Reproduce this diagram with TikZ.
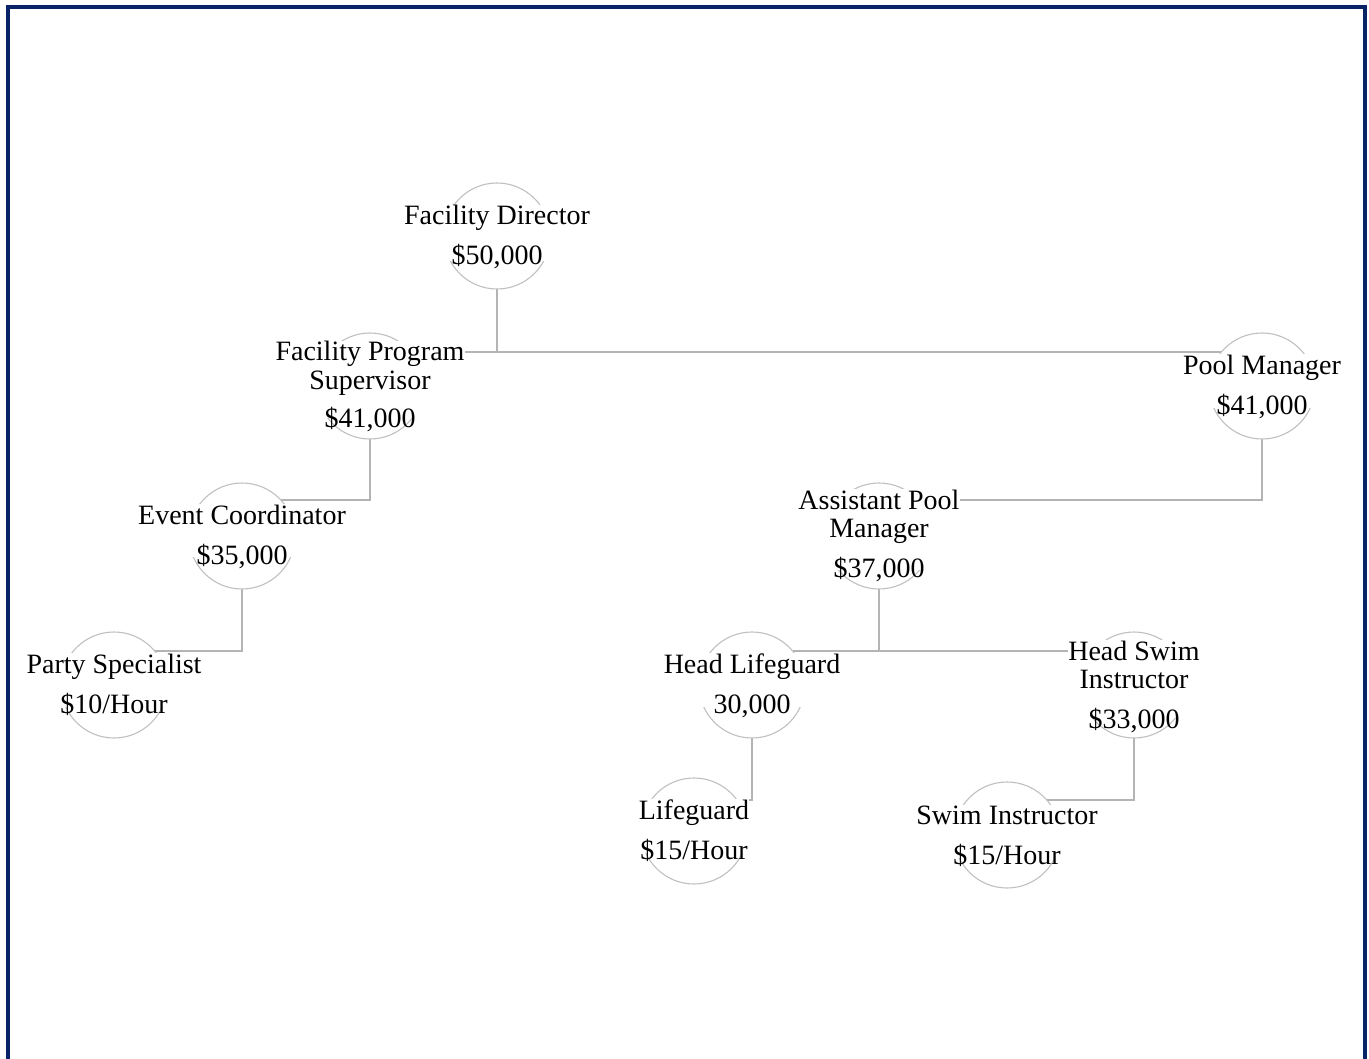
\documentclass[tikz,border=0pt]{standalone}
\usepackage{fontspec}
\setmainfont{Liberation Serif}
\usetikzlibrary{fit,calc}
\definecolor{navy}{RGB}{8,36,102}
\definecolor{circgray}{RGB}{192,192,192}
\definecolor{conngray}{RGB}{180,180,180}
\pgfdeclarelayer{connlayer}
\pgfdeclarelayer{circlayer}
\pgfdeclarelayer{boxlayer}
\pgfsetlayers{connlayer,circlayer,boxlayer,main}
\begin{document}
\begin{tikzpicture}[x=1pt,y=-1pt,
  circ/.style={circle,draw=circgray,line width=1.1pt,fill=white,minimum size=106pt,inner sep=0pt},
  lbl/.style={inner sep=0pt,anchor=base,font=\fontsize{28}{28}\selectfont},
  lblbox/.style={fill=white,draw=none,inner sep=0pt},
  conn/.style={draw=conngray,line width=1.1pt}]
\useasboundingbox (0,0) rectangle (1369,1059);
\draw[navy,line width=4pt] (8,7) rectangle (1365,1075);

% circles
\begin{pgfonlayer}{circlayer}
\node[circ] (fd)  at (497,236) {};
\node[circ] (fps) at (370,386) {};
\node[circ] (pm)  at (1262,386) {};
\node[circ] (ec)  at (242,536) {};
\node[circ] (apm) at (879,536) {};
\node[circ] (ps)  at (114,685) {};
\node[circ] (hl)  at (752,685) {};
\node[circ] (hsi) at (1134,685) {};
\node[circ] (lg)  at (694,831) {};
\node[circ] (si)  at (1007,835) {};
\end{pgfonlayer}

% connectors
\coordinate (jfd) at (497,352);
\coordinate (jfps) at (370,500);
\coordinate (jpm) at (1262,500);
\coordinate (jec) at (242,651);
\coordinate (japm) at (879,651);
\coordinate (jhl) at (752,800);
\coordinate (jhsi) at (1134,800);
\begin{pgfonlayer}{connlayer}
\draw[conn] (fd.center) -- (jfd) -| (fps.center);
\draw[conn] (jfd) -| (pm.center);
\draw[conn] (fps.center) -- (jfps) -| (ec.center);
\draw[conn] (pm.center) -- (jpm) -| (apm.center);
\draw[conn] (ec.center) -- (jec) -| (ps.center);
\draw[conn] (apm.center) -- (japm) -| (hl.center);
\draw[conn] (japm) -| (hsi.center);
\draw[conn] (hl.center) -- (jhl) -| (lg.center);
\draw[conn] (hsi.center) -- (jhsi) -| (si.center);
\end{pgfonlayer}

% labels
\node[lbl] (fd1) at (497,225) {Facility Director};
\node[lbl] (fd2) at (497,265) {\$50,000};
\node[lbl] (fps1) at (370,361) {Facility Program};
\node[lbl] (fps2) at (370,389) {Supervisor};
\node[lbl] (fps3) at (370,428) {\$41,000};
\node[lbl] (pm1) at (1262,374) {Pool Manager};
\node[lbl] (pm2) at (1262,414) {\$41,000};
\node[lbl] (ec1) at (242,524) {Event Coordinator};
\node[lbl] (ec2) at (242,564) {\$35,000};
\node[lbl] (apm1) at (879,509) {Assistant Pool};
\node[lbl] (apm2) at (879,537) {Manager};
\node[lbl] (apm3) at (879,577) {\$37,000};
\node[lbl] (ps1) at (114,673) {Party Specialist};
\node[lbl] (ps2) at (114,713) {\$10/Hour};
\node[lbl] (hl1) at (752,673) {Head Lifeguard};
\node[lbl] (hl2) at (752,713) {30,000};
\node[lbl] (hsi1) at (1134,660) {Head Swim};
\node[lbl] (hsi2) at (1134,688) {Instructor};
\node[lbl] (hsi3) at (1134,728) {\$33,000};
\node[lbl] (lg1) at (694,819) {Lifeguard};
\node[lbl] (lg2) at (694,859) {\$15/Hour};
\node[lbl] (si1) at (1007,824) {Swim Instructor};
\node[lbl] (si2) at (1007,864) {\$15/Hour};

% lower limits of the white boxes (just above the salary baseline)
\coordinate (fdb)  at ($(fd2.base)+(0,-4)$);
\coordinate (fpsb) at ($(fps3.base)+(0,-10)$);
\coordinate (pmb)  at ($(pm2.base)+(0,-6)$);
\coordinate (ecb)  at ($(ec2.base)+(0,-7)$);
\coordinate (apmb) at ($(apm3.base)+(0,-7)$);
\coordinate (psb)  at ($(ps2.base)+(0,-6)$);
\coordinate (hlb)  at ($(hl2.base)+(0,-6)$);
\coordinate (hsib) at ($(hsi3.base)+(0,-10)$);
\coordinate (lgb)  at ($(lg2.base)+(0,-6)$);
\coordinate (sib)  at ($(si2.base)+(0,-6)$);

% white boxes behind label blocks
\begin{pgfonlayer}{boxlayer}
\node[lblbox,fit=(fd1)(fdb)] (fdbox) {};
\node[lblbox,fit=(fps1)(fps2)(fpsb)] (fpsbox) {};
\node[lblbox,fit=(pm1)(pmb)] (pmbox) {};
\node[lblbox,fit=(ec1)(ecb)] (ecbox) {};
\node[lblbox,fit=(apm1)(apm2)(apmb)] (apmbox) {};
\node[lblbox,fit=(ps1)(psb)] (psbox) {};
\node[lblbox,fit=(hl1)(hlb)] (hlbox) {};
\node[lblbox,fit=(hsi1)(hsi2)(hsib)] (hsibox) {};
\node[lblbox,fit=(lg1)(lgb)] (lgbox) {};
\node[lblbox,fit=(si1)(sib)] (sibox) {};
\end{pgfonlayer}
\end{tikzpicture}
\end{document}
